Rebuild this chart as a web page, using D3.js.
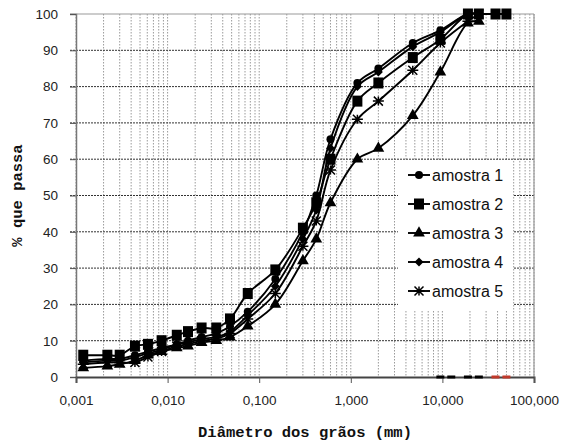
<!DOCTYPE html>
<html>
<head>
<meta charset="utf-8">
<script src="https://cdn.jsdelivr.net/npm/d3@7"></script>
<style>
  html, body { margin: 0; padding: 0; background: #fff; }
  svg { display: block; }
</style>
</head>
<body>
<div id="chart"></div>
<script>
// grain diameters (mm)
const diametros = [0.0012, 0.0022, 0.003, 0.0044, 0.0061, 0.0086, 0.0126, 0.0167, 0.0235, 0.034, 0.048,
  0.075, 0.15, 0.3, 0.42, 0.6, 1.18, 2.0, 4.75, 9.5, 19, 25, 38, 50];

const amostra1 = [4.5, 5, 5, 6, 7, 8, 9, 10, 11, 12, 14, 18, 27, 40, 50, 65.5, 81, 85, 92, 95.5, 100, 100];
const amostra2 = [6, 6, 6, 8.5, 9, 10, 11.5, 12.5, 13.5, 13.5, 16, 23, 29.5, 41, 48, 60, 76, 81, 88, 93, 100, 100, 100, 100];
const amostra3 = [2.5, 3, 3.5, 4.5, 6, 7, 8, 8.5, 9.5, 10, 11, 14, 20, 32, 38, 48, 60, 63, 72, 84, 97.5, 98];
const amostra4 = [4, 4.5, 4.5, 5.5, 6.5, 7.5, 9, 9.5, 10.5, 11, 12.5, 17, 25, 38, 46, 63, 80, 84, 91, 95, 100, 100];
const amostra5 = [3.5, 4, 4, 4, 5.5, 7, 8.5, 9, 10, 10.5, 12, 16, 23, 36, 43, 57, 71, 76, 84.5, 92, 98, 100];

const seriesNames = ['amostra 1', 'amostra 2', 'amostra 3', 'amostra 4', 'amostra 5'];
const markerTypes = ['circle', 'square', 'triangle', 'diamond', 'star'];

// stray zero points sitting on the x axis
const zeroBlack = [9.5, 12.5, 19, 25];
const zeroRed = [38, 50];

const xTicks = [0.001, 0.01, 0.1, 1, 10, 100];
const xTickLabels = ['0,001', '0,010', '0,100', '1,000', '10,000', '100,000'];
const yTicks = [0, 10, 20, 30, 40, 50, 60, 70, 80, 90, 100];

const W = 561, H = 442;
const margin = { top: 14, right: 27, bottom: 65, left: 76 };
const width = W - margin.left - margin.right;
const height = H - margin.top - margin.bottom;

const svg = d3.select('#chart').append('svg')
  .attr('width', W)
  .attr('height', H);

const g = svg.append('g')
  .attr('transform', `translate(${margin.left},${margin.top})`);

const x = d3.scaleLog().domain([0.001, 100]).range([0, width]);
const y = d3.scaleLinear().domain([0, 100]).range([height, 0]);

// minor + major vertical grid
const vGrid = [];
for (let e = -3; e < 2; e++) {
  for (let k = 1; k <= 9; k++) vGrid.push(k * Math.pow(10, e));
}
vGrid.push(100);
g.append('g').selectAll('line')
  .data(vGrid)
  .join('line')
  .attr('x1', d => x(d)).attr('x2', d => x(d))
  .attr('y1', 0).attr('y2', height)
  .attr('stroke', '#9a9a9a')
  .attr('stroke-width', 1)
  .attr('stroke-dasharray', '1.5,1.5');

// horizontal grid
g.append('g').selectAll('line')
  .data(yTicks.filter(d => d > 0 && d < 100))
  .join('line')
  .attr('x1', -6).attr('x2', width)
  .attr('y1', d => y(d)).attr('y2', d => y(d))
  .attr('stroke', '#333')
  .attr('stroke-width', 1)
  .attr('stroke-dasharray', '2,1');

// frame
g.append('line').attr('x1', -6).attr('x2', width).attr('y1', 0).attr('y2', 0)
  .attr('stroke', '#999').attr('stroke-width', 1.2);
g.append('line').attr('x1', width).attr('x2', width).attr('y1', 0).attr('y2', height)
  .attr('stroke', '#999').attr('stroke-width', 1.2);

// y axis
const yAxis = g.append('g')
  .call(d3.axisLeft(y).tickValues(yTicks).tickSize(6).tickPadding(12));
yAxis.select('.domain').attr('stroke', '#777').attr('stroke-width', 1.5);
yAxis.selectAll('.tick line').attr('stroke', '#555');
yAxis.selectAll('text')
  .style('font-family', '"Liberation Sans", Arial, sans-serif')
  .style('font-size', '13.5px')
  .style('fill', '#222');

// x axis
const xAxis = g.append('g')
  .attr('transform', `translate(0,${height})`)
  .call(d3.axisBottom(x).tickValues(xTicks).tickFormat((d, i) => xTickLabels[i]).tickSize(6).tickPadding(12));
xAxis.select('.domain').attr('stroke', '#444').attr('stroke-width', 2);
xAxis.selectAll('.tick line').attr('stroke', '#555');
xAxis.selectAll('text')
  .style('font-family', '"Liberation Sans", Arial, sans-serif')
  .style('font-size', '13.5px')
  .style('fill', '#222');

// axis titles
svg.append('text')
  .attr('x', margin.left + width / 2)
  .attr('y', 437)
  .attr('text-anchor', 'middle')
  .style('font-family', '"Liberation Mono", "Courier New", monospace')
  .style('font-weight', 'bold')
  .style('font-size', '15.5px')
  .style('fill', '#111')
  .text('Diâmetro dos grãos (mm)');

svg.append('text')
  .attr('transform', `translate(22,${margin.top + height / 2}) rotate(-90)`)
  .attr('text-anchor', 'middle')
  .style('font-family', '"Liberation Mono", "Courier New", monospace')
  .style('font-weight', 'bold')
  .style('font-size', '15.5px')
  .style('fill', '#111')
  .text('% que passa');

// markers
function drawMarker(sel, type, cx, cy) {
  if (type === 'circle') {
    sel.append('circle').attr('cx', cx).attr('cy', cy).attr('r', 4).attr('fill', '#000');
  } else if (type === 'square') {
    sel.append('rect').attr('x', cx - 5).attr('y', cy - 5.5).attr('width', 10).attr('height', 11).attr('fill', '#000');
  } else if (type === 'triangle') {
    sel.append('path').attr('transform', `translate(${cx},${cy})`)
      .attr('d', d3.symbol(d3.symbolTriangle, 60)()).attr('fill', '#000');
  } else if (type === 'diamond') {
    sel.append('path').attr('transform', `translate(${cx},${cy})`)
      .attr('d', 'M0,-4.5L4.5,0L0,4.5L-4.5,0Z').attr('fill', '#000');
  } else if (type === 'star') {
    sel.append('path').attr('transform', `translate(${cx},${cy})`)
      .attr('d', 'M-4.5,-4.5L4.5,4.5M-4.5,4.5L4.5,-4.5M-5.5,0L5.5,0M0,-4.5L0,4.5')
      .attr('stroke', '#000').attr('stroke-width', 1.5).attr('fill', 'none');
  }
}

const allSeries = [amostra1, amostra2, amostra3, amostra4, amostra5];

const line = d3.line()
  .x(d => x(d[0]))
  .y(d => y(d[1]))
  .curve(d3.curveCatmullRom.alpha(0.5));

allSeries.forEach((vals, si) => {
  const pts = vals.map((v, i) => [diametros[i], v]);
  g.append('path')
    .datum(pts)
    .attr('fill', 'none')
    .attr('stroke', '#000')
    .attr('stroke-width', 1.9)
    .attr('d', line);
  const mg = g.append('g');
  pts.forEach(p => drawMarker(mg, markerTypes[si], x(p[0]), y(p[1])));
});

// zero points on the axis
g.append('g').selectAll('rect')
  .data(zeroBlack)
  .join('rect')
  .attr('x', d => x(d) - 4).attr('y', y(0) - 1.5)
  .attr('width', 8).attr('height', 3)
  .attr('fill', '#000');
g.append('g').selectAll('rect')
  .data(zeroRed)
  .join('rect')
  .attr('x', d => x(d) - 4).attr('y', y(0) - 1.5)
  .attr('width', 8).attr('height', 3)
  .attr('fill', '#c0392b');

// legend
const legend = svg.append('g').attr('transform', 'translate(398,160)');
legend.append('rect')
  .attr('x', 0).attr('y', 0)
  .attr('width', 115).attr('height', 150)
  .attr('fill', '#fff');
seriesNames.forEach((name, i) => {
  const ly = 15 + i * 29;
  const item = legend.append('g');
  item.append('line')
    .attr('x1', 10).attr('x2', 32)
    .attr('y1', ly).attr('y2', ly)
    .attr('stroke', '#000').attr('stroke-width', 1.9);
  drawMarker(item, markerTypes[i], 21, ly);
  item.append('text')
    .attr('x', 34).attr('y', ly + 6)
    .style('font-family', '"Liberation Sans", Arial, sans-serif')
    .style('font-size', '16px')
    .style('fill', '#111')
    .text(name);
});
</script>
</body>
</html>
